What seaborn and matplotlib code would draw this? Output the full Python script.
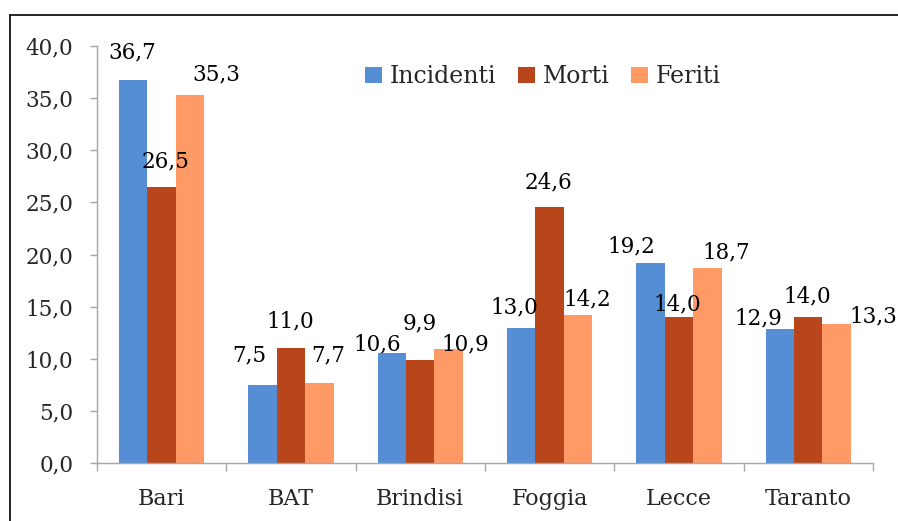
import pandas as pd
import matplotlib.pyplot as plt
import seaborn as sns
from matplotlib.ticker import FuncFormatter, FixedLocator
from matplotlib.lines import Line2D

# data
province = ['Bari', 'BAT', 'Brindisi', 'Foggia', 'Lecce', 'Taranto']
incidenti = [36.7, 7.5, 10.6, 13.0, 19.2, 12.9]
morti = [26.5, 11.0, 9.9, 24.6, 14.0, 14.0]
feriti = [35.3, 7.7, 10.9, 14.2, 18.7, 13.3]
series = ['Incidenti', 'Morti', 'Feriti']
colors = ['#558ED5', '#B9461A', '#FF9966']

# label nudges (pixels, x right / y up from the bar top) as placed in the original
label_shift = {
    'Incidenti': [(-1, 28), (-13, 29), (-15, 8), (-7, 20), (-19, 16), (-21, 10)],
    'Morti': [(4, 25), (-1, 27), (-1, 36), (-1, 24), (-2, 13), (-1, 21)],
    'Feriti': [(26, 20), (9, 27), (17, 5), (9, 16), (19, 16), (37, 8)],
}

df = pd.DataFrame({'Provincia': province, 'Incidenti': incidenti,
                   'Morti': morti, 'Feriti': feriti})
df_long = df.melt(id_vars='Provincia', var_name='Serie', value_name='Valore')

sns.set_style('white')
plt.rcParams['font.family'] = ['DejaVu Serif']

fig, ax = plt.subplots(figsize=(8.98, 5.21), dpi=100)
fig.subplots_adjust(left=0.108, right=0.972, bottom=0.111, top=0.912)

sns.barplot(data=df_long, x='Provincia', y='Valore', hue='Serie',
            hue_order=series, palette=colors, width=0.66, gap=0,
            linewidth=0, saturation=1, ax=ax)

def comma(v, pos=None):
    return f"{v:.1f}".replace('.', ',')

for name, cont in zip(series, ax.containers):
    for bar, (dx, dy) in zip(cont, label_shift[name]):
        x = bar.get_x() + bar.get_width() / 2
        h = bar.get_height()
        ax.annotate(comma(h), xy=(x, h), xytext=(dx * 0.72, dy * 0.72),
                    textcoords='offset points', ha='center', va='center',
                    fontsize=15.5, color='black')

ax.set_ylim(0, 40)
ax.set_xlim(-0.5, 5.5)
ax.yaxis.set_major_locator(FixedLocator([0, 5, 10, 15, 20, 25, 30, 35, 40]))
ax.yaxis.set_major_formatter(FuncFormatter(comma))
ax.xaxis.set_minor_locator(FixedLocator([i - 0.5 for i in range(7)]))

ax.set_xlabel('')
ax.set_ylabel('')
sns.despine(ax=ax, top=True, right=True)
for s in ['left', 'bottom']:
    ax.spines[s].set_color('#A6A6A6')
    ax.spines[s].set_linewidth(1)

ax.tick_params(axis='y', which='major', direction='out', length=5,
               width=1, color='#A6A6A6', pad=12, labelsize=15.5, left=True)
ax.tick_params(axis='x', which='major', length=0, pad=18, labelsize=16)
ax.tick_params(axis='x', which='minor', direction='out', length=6,
               width=1, color='#A6A6A6', bottom=True)

ax.legend(loc='center', bbox_to_anchor=(0.575, 0.926), ncol=3, frameon=False,
          fontsize=17, handlelength=0.72, handleheight=0.72, handletextpad=0.34,
          columnspacing=0.9)

# outer frame (only left and top edges visible in the reference)
fig.add_artist(Line2D([10 / 898, 10 / 898], [0, 1 - 15 / 521],
                      transform=fig.transFigure, color='black', lw=1.2))
fig.add_artist(Line2D([10 / 898, 1], [1 - 15 / 521, 1 - 15 / 521],
                      transform=fig.transFigure, color='black', lw=1.2))

fig.savefig('out.png', dpi=100)
